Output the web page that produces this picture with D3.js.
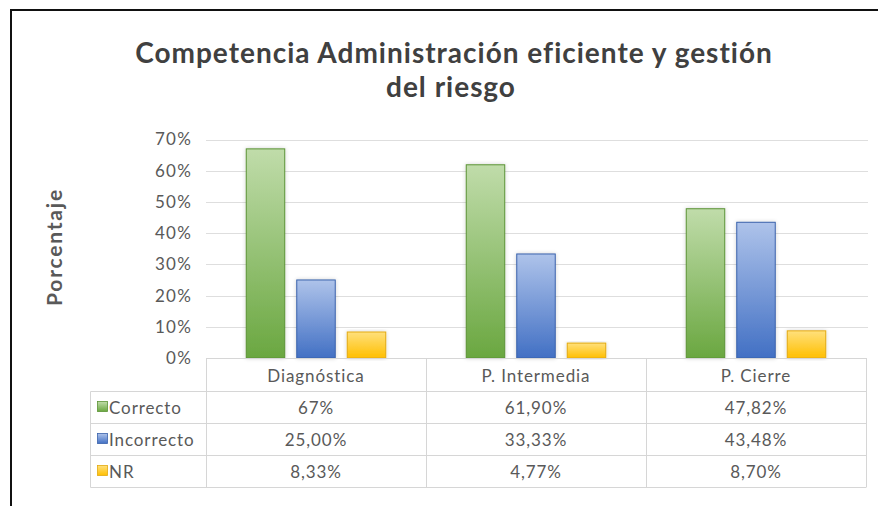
<!DOCTYPE html>
<html>
<head>
<meta charset="utf-8">
<script src="https://cdn.jsdelivr.net/npm/d3@7"></script>
<style>
  html, body { margin: 0; padding: 0; background: #fff; }
  svg { display: block; font-family: Lato, "Open Sans", sans-serif; }
</style>
</head>
<body>
<div id="chart"></div>
<script>
'use strict';

const w = 878;
const h = 506;

// data
const categories = ["Diagnóstica", "P. Intermedia", "P. Cierre"];
const series = ["Correcto", "Incorrecto", "NR"];
const correcto = [67, 61.90, 47.82];
const incorrecto = [25.00, 33.33, 43.48];
const nr = [8.33, 4.77, 8.70];
const correctoLabels = ["67%", "61,90%", "47,82%"];
const incorrectoLabels = ["25,00%", "33,33%", "43,48%"];
const nrLabels = ["8,33%", "4,77%", "8,70%"];
const yTicks = [0, 10, 20, 30, 40, 50, 60, 70];

const rows = [
  {name: series[0], values: correcto, labels: correctoLabels},
  {name: series[1], values: incorrecto, labels: incorrectoLabels},
  {name: series[2], values: nr, labels: nrLabels}
];

// colours per series: top of gradient, bottom of gradient, outline
const palette = {
  Correcto:   {top: "#c0dcaa", bottom: "#6aa740", stroke: "#5b9335"},
  Incorrecto: {top: "#aec3ea", bottom: "#4270c4", stroke: "#3a62ab"},
  NR:         {top: "#ffe07c", bottom: "#ffbf00", stroke: "#e3aa10"}
};

const plotLeft = 206, plotRight = 866;
const plotTop = 139.5, plotBottom = 358;
const rowH = 32;
const textColor = "#595959";
const smallFont = 17, smallSpacing = 0.9;

const svg = d3.select("#chart").append("svg")
  .attr("width", w)
  .attr("height", h);

// gradients + glow
const defs = svg.append("defs");
series.forEach((s, i) => {
  const g = defs.append("linearGradient")
    .attr("id", "grad" + i)
    .attr("x1", 0).attr("y1", 0).attr("x2", 0).attr("y2", 1);
  g.append("stop").attr("offset", "0%").attr("stop-color", palette[s].top);
  g.append("stop").attr("offset", "100%").attr("stop-color", palette[s].bottom);
});
const glow = defs.append("filter").attr("id", "glow")
  .attr("x", "-30%").attr("y", "-10%").attr("width", "160%").attr("height", "120%");
glow.append("feGaussianBlur").attr("in", "SourceAlpha").attr("stdDeviation", 2).attr("result", "b");
glow.append("feComponentTransfer").attr("in", "b").attr("result", "b2")
  .append("feFuncA").attr("type", "linear").attr("slope", 0.18);
const merge = glow.append("feMerge");
merge.append("feMergeNode").attr("in", "b2");
merge.append("feMergeNode").attr("in", "SourceGraphic");

// frame (top and left edge)
svg.append("line").attr("x1", 10).attr("x2", w).attr("y1", 10).attr("y2", 10)
  .attr("stroke", "#111").attr("stroke-width", 2);
svg.append("line").attr("x1", 11).attr("x2", 11).attr("y1", 9).attr("y2", h)
  .attr("stroke", "#111").attr("stroke-width", 2);

// title
const title = svg.append("text")
  .attr("text-anchor", "middle")
  .attr("fill", "#404040")
  .attr("font-size", 28)
  .attr("letter-spacing", 1)
  .attr("font-weight", "bold");
title.append("tspan").attr("x", 454).attr("y", 63).text("Competencia Administración eficiente y gestión");
title.append("tspan").attr("x", 451).attr("y", 97).text("del riesgo");

// scales
const x0 = d3.scaleBand().domain(categories).range([plotLeft, plotRight]);
const x1 = d3.scaleBand().domain(series).range([0, x0.bandwidth()])
  .paddingInner(0.218).paddingOuter(0.787);
const y = d3.scaleLinear().domain([0, 70]).range([plotBottom, plotTop]);

// gridlines
svg.append("g").selectAll("line")
  .data(yTicks.slice(1))
  .join("line")
  .attr("x1", plotLeft).attr("x2", 868)
  .attr("y1", d => Math.round(y(d)) + 0.5).attr("y2", d => Math.round(y(d)) + 0.5)
  .attr("stroke", "#dedede");

// y axis labels
const yAxis = d3.axisLeft(y).tickValues(yTicks).tickFormat(d => d + "%").tickSize(0).tickPadding(0);
const ya = svg.append("g").attr("transform", "translate(192,0)").call(yAxis);
ya.select(".domain").remove();
ya.selectAll("text")
  .attr("font-family", "Lato, 'Open Sans', sans-serif")
  .attr("font-size", smallFont)
  .attr("letter-spacing", 1.2)
  .attr("fill", textColor);

// y axis title
svg.append("text")
  .attr("transform", "translate(62,247) rotate(-90)")
  .attr("text-anchor", "middle")
  .attr("font-size", 21)
  .attr("letter-spacing", 1.8)
  .attr("font-weight", "bold")
  .attr("fill", textColor)
  .text("Porcentaje");

// bars
const groups = svg.append("g").selectAll("g")
  .data(categories)
  .join("g")
  .attr("transform", d => "translate(" + x0(d) + ",0)");

groups.selectAll("rect")
  .data((c, ci) => rows.map((r, si) => ({series: r.name, si: si, value: r.values[ci]})))
  .join("rect")
  .attr("x", d => x1(d.series) + 0.5)
  .attr("y", d => y(d.value))
  .attr("width", x1.bandwidth() - 1)
  .attr("height", d => plotBottom - y(d.value))
  .attr("fill", d => "url(#grad" + d.si + ")")
  .attr("stroke", d => palette[d.series].stroke)
  .attr("stroke-width", 1)
  .attr("filter", "url(#glow)");

// data table
const tableLeft = 90.5;
const table = svg.append("g");
const lineColor = "#d6d6d6";

// horizontal lines
table.append("line").attr("x1", plotLeft).attr("x2", plotRight).attr("y1", plotBottom + 0.5).attr("y2", plotBottom + 0.5)
  .attr("stroke", lineColor);
table.selectAll("line.hrow")
  .data(d3.range(rows.length + 1))
  .join("line")
  .attr("class", "hrow")
  .attr("x1", tableLeft).attr("x2", plotRight)
  .attr("y1", i => plotBottom + rowH * (i + 1) + 1.5)
  .attr("y2", i => plotBottom + rowH * (i + 1) + 1.5)
  .attr("stroke", lineColor);
// vertical lines
const colEdges = [plotLeft].concat(categories.map(c => x0(c) + x0.bandwidth()));
table.selectAll("line.vcol")
  .data(colEdges)
  .join("line")
  .attr("class", "vcol")
  .attr("x1", d => Math.round(d) + 0.5).attr("x2", d => Math.round(d) + 0.5)
  .attr("y1", plotBottom).attr("y2", plotBottom + rowH * (rows.length + 1) + 1.5)
  .attr("stroke", lineColor);
table.append("line")
  .attr("x1", tableLeft).attr("x2", tableLeft)
  .attr("y1", plotBottom + rowH + 1.5).attr("y2", plotBottom + rowH * (rows.length + 1) + 1.5)
  .attr("stroke", lineColor);

// header
table.selectAll("text.head")
  .data(categories)
  .join("text")
  .attr("class", "head")
  .attr("x", d => x0(d) + x0.bandwidth() / 2)
  .attr("y", plotBottom + 24)
  .attr("text-anchor", "middle")
  .attr("font-size", smallFont)
  .attr("letter-spacing", smallSpacing)
  .attr("fill", textColor)
  .text(d => d);

// rows
const rowG = table.selectAll("g.row")
  .data(rows)
  .join("g")
  .attr("class", "row")
  .attr("transform", (d, i) => "translate(0," + (plotBottom + rowH * (i + 1)) + ")");

rowG.append("rect")
  .attr("x", 97.5).attr("y", 11.5)
  .attr("width", 10).attr("height", 10)
  .attr("fill", (d, i) => "url(#grad" + i + ")")
  .attr("stroke", d => palette[d.name].stroke)
  .attr("stroke-width", 0.8);

rowG.append("text")
  .attr("x", 109)
  .attr("y", 24)
  .attr("font-size", smallFont)
  .attr("letter-spacing", smallSpacing)
  .attr("fill", textColor)
  .text(d => d.name);

rowG.selectAll("text.val")
  .data(d => d.labels.map((l, ci) => ({label: l, cat: categories[ci]})))
  .join("text")
  .attr("class", "val")
  .attr("x", d => x0(d.cat) + x0.bandwidth() / 2)
  .attr("y", 24)
  .attr("text-anchor", "middle")
  .attr("font-size", smallFont)
  .attr("letter-spacing", smallSpacing)
  .attr("fill", textColor)
  .text(d => d.label);
</script>
</body>
</html>
